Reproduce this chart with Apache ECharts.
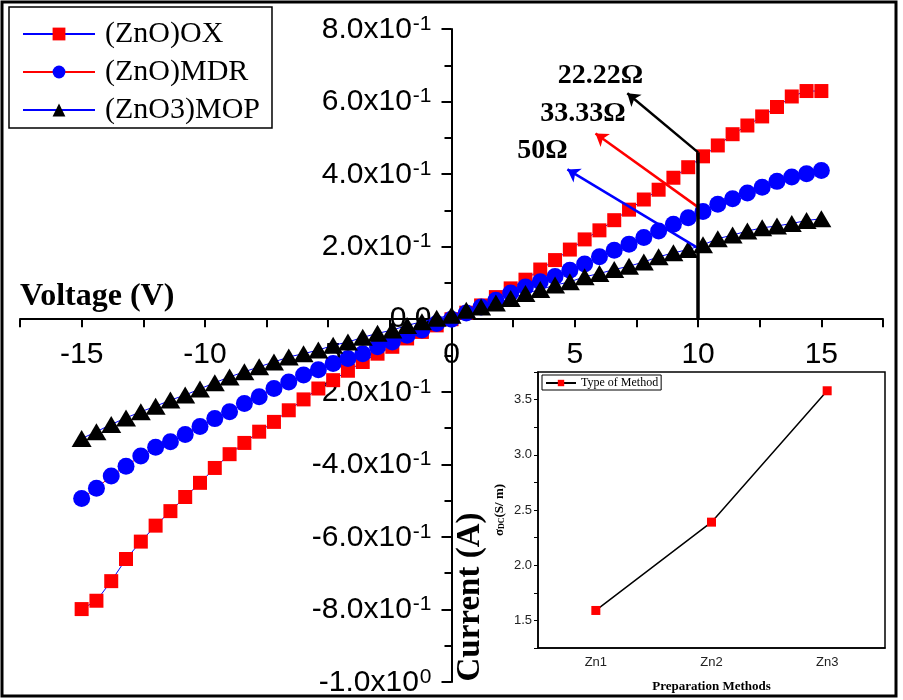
<!DOCTYPE html>
<html><head><meta charset="utf-8">
<script src="https://cdn.jsdelivr.net/npm/echarts@6/dist/echarts.min.js"></script>
<style>html,body{margin:0;padding:0;background:#fff}#c{width:903px;height:700px}</style>
</head><body><div id="c"></div>
<script>
// ---- data ----
const voltage = [-15,-14.4,-13.8,-13.2,-12.6,-12,-11.4,-10.8,-10.2,-9.6,-9,-8.4,-7.8,-7.2,-6.6,-6,-5.4,-4.8,-4.2,-3.6,-3,-2.4,-1.8,-1.2,-0.6,0,0.6,1.2,1.8,2.4,3,3.6,4.2,4.8,5.4,6,6.6,7.2,7.8,8.4,9,9.6,10.2,10.8,11.4,12,12.6,13.2,13.8,14.4,15];
const currentOX = [-0.799,-0.776,-0.722,-0.661,-0.613,-0.569,-0.529,-0.490,-0.451,-0.410,-0.372,-0.341,-0.310,-0.283,-0.251,-0.221,-0.191,-0.168,-0.142,-0.118,-0.095,-0.076,-0.053,-0.035,-0.017,0,0.018,0.038,0.061,0.085,0.109,0.137,0.163,0.192,0.220,0.245,0.273,0.302,0.330,0.357,0.390,0.419,0.449,0.479,0.510,0.534,0.559,0.585,0.614,0.629,0.629];
const currentMDR = [-0.494,-0.466,-0.432,-0.405,-0.377,-0.353,-0.338,-0.318,-0.296,-0.274,-0.255,-0.232,-0.214,-0.191,-0.173,-0.154,-0.139,-0.122,-0.108,-0.095,-0.076,-0.063,-0.044,-0.030,-0.012,0,0.017,0.034,0.052,0.072,0.089,0.103,0.118,0.135,0.152,0.172,0.190,0.207,0.225,0.243,0.262,0.280,0.297,0.317,0.332,0.348,0.364,0.380,0.392,0.401,0.410];
const currentMOP = [-0.329,-0.310,-0.290,-0.272,-0.255,-0.240,-0.223,-0.209,-0.192,-0.175,-0.159,-0.145,-0.131,-0.118,-0.104,-0.095,-0.085,-0.072,-0.063,-0.050,-0.039,-0.030,-0.017,-0.007,0.003,0.011,0.025,0.034,0.045,0.057,0.071,0.082,0.094,0.103,0.117,0.126,0.137,0.146,0.158,0.172,0.183,0.192,0.205,0.222,0.232,0.243,0.252,0.257,0.264,0.272,0.277];
const seriesNames = ['(ZnO)OX','(ZnO)MDR','(ZnO3)MOP'];
const yTickMant = ['-1.0x10','-8.0x10','-6.0x10','-4.0x10','-2.0x10','0.0','2.0x10','4.0x10','6.0x10','8.0x10'];
const yTickExp  = ['0','-1','-1','-1','-1','','-1','-1','-1','-1'];
const xTickLabels = ['-15','-10','-5','0','5','10','15'];
const xTickValues = [-15,-10,-5,0,5,10,15];
// annotations (data coordinates)
const resistLabels = ['22.22Ω','33.33Ω','50Ω'];
const resistLabelPos = [[6.04,0.672],[5.33,0.567],[3.69,0.463]];
const arrowStart = [[10,0.46],[10,0.309],[10,0.196]];
const arrowEnd = [[7.13,0.623],[5.84,0.512],[4.70,0.413]];
const arrowColors = ['#000000','#ff0000','#0000ff'];
const guideLine = [[10,0],[10,0.46]];
// inset
const methods = ['Zn1','Zn2','Zn3'];
const sigmaDC = [1.59,2.39,3.58];
const insetName = 'Type of Method';

const SANS = 'Liberation Sans, Arial, sans-serif';
const SERIF = 'Liberation Serif, Times New Roman, serif';

const chart = echarts.init(document.getElementById('c'), null, {renderer:'canvas'});
const mk = arr => voltage.map((v,i)=>[v, arr[i]]);

const markLineData = arrowStart.map((s,i)=>[
  {coord:s, symbol:'none', lineStyle:{color:arrowColors[i], width:2.5, type:'solid'}},
  {coord:arrowEnd[i], symbol:'arrow'}
]);
markLineData.push([
  {coord:guideLine[0], symbol:'none', lineStyle:{color:'#000', width:3.5, type:'solid'}},
  {coord:guideLine[1], symbol:'none'}
]);

const option = {
  animation:false,
  backgroundColor:'#fff',
  grid:[
    {left:20, right:20, top:29, bottom:18, show:false, containLabel:false, outerBoundsMode:'none'},
    {left:538, top:372, width:347, height:276, show:true, backgroundColor:'#fff', borderColor:'#000', borderWidth:1.5, containLabel:false, outerBoundsMode:'none'}
  ],
  legend:[
    {data:seriesNames, orient:'vertical', left:9, top:7, itemWidth:72, itemHeight:16, itemGap:8,
     padding:[12,12,3,13], borderColor:'#000', borderWidth:1.5, backgroundColor:'#fff',
     selectedMode:false,
     textStyle:{fontSize:30, fontFamily:SERIF, color:'#000', padding:[0,0,0,5]}},
    {data:[insetName], left:542, top:375, itemWidth:30, itemHeight:8, padding:[2,3,1,3],
     borderColor:'#000', borderWidth:1, selectedMode:false,
     textStyle:{fontSize:12, fontFamily:SERIF, color:'#000'}}
  ],
  xAxis:[
    {type:'value', gridIndex:0, min:-17.5, max:17.5, interval:2.5, position:'bottom', offset:0,
     axisLine:{onZero:false, lineStyle:{color:'#000', width:2}},
     axisTick:{show:true, length:8, lineStyle:{color:'#000', width:2}},
     splitLine:{show:false},
     axisLabel:{margin:21, fontSize:30, fontFamily:SANS, color:'#000', showMinLabel:true, showMaxLabel:true,
       formatter:v=>{const i=xTickValues.findIndex(t=>Math.abs(t-v)<1e-6); return i>=0?xTickLabels[i]:'';}}},
    {type:'category', gridIndex:1, data:methods,
     axisLine:{lineStyle:{color:'#000', width:1.5}},
     axisTick:{alignWithLabel:true, length:4, lineStyle:{color:'#000'}},
     axisLabel:{fontSize:13, fontFamily:SANS, color:'#222', margin:8},
     name:'Preparation Methods', nameLocation:'middle', nameGap:32,
     nameTextStyle:{fontFamily:SERIF, fontWeight:'bold', fontSize:13, color:'#000'}}
  ],
  yAxis:[
    {type:'value', gridIndex:0, min:-1.0, max:0.8, interval:0.2, position:'left', offset:0,
     axisLine:{onZero:false, lineStyle:{color:'#000', width:2}},
     axisTick:{show:true, length:10, lineStyle:{color:'#000', width:2}},
     minorTick:{show:true, splitNumber:2, length:7, lineStyle:{color:'#000', width:2}},
     splitLine:{show:false}, minorSplitLine:{show:false},
     axisLabel:{margin:20, color:'#000', showMinLabel:true, showMaxLabel:true,
       formatter:v=>{const i=Math.round((v+1.0)/0.2); const m=yTickMant[i], e=yTickExp[i]; return e?`{m|${m}}{s|${e}}`:`{m|${m}}`;},
       rich:{m:{fontSize:30, fontFamily:SANS, color:'#000', verticalAlign:'bottom'},
             s:{fontSize:21, fontFamily:SANS, color:'#000', verticalAlign:'bottom', padding:[0,0,10,1]}}}},
    {type:'value', gridIndex:1, min:1.25, max:3.75, interval:0.25,
     axisLine:{show:true, lineStyle:{color:'#000', width:1.5}},
     axisTick:{show:true, length:4, lineStyle:{color:'#000'}},
     splitLine:{show:false},
     axisLabel:{fontSize:13, fontFamily:SANS, color:'#222', margin:6,
       formatter:v=>{const k=Math.round(v*4); return k%2===0? (k/4).toFixed(1):'';}},
     name:'{a|σ}{b|DC}{a|(S/ m)}', nameLocation:'middle', nameGap:32, nameRotate:90,
     nameTextStyle:{rich:{a:{fontFamily:SERIF, fontWeight:'bold', fontSize:13, color:'#000'},
                          b:{fontFamily:SERIF, fontWeight:'bold', fontSize:8, color:'#000', verticalAlign:'bottom'}}}}
  ],
  series:[
    {name:seriesNames[0], type:'line', data:mk(currentOX), symbol:'rect', symbolSize:14,
     itemStyle:{color:'#ff0000'}, lineStyle:{color:'#0000ff', width:1}},
    {name:seriesNames[1], type:'line', data:mk(currentMDR), symbol:'circle', symbolSize:17,
     itemStyle:{color:'#0000ff'}, lineStyle:{color:'#ff0000', width:1}},
    {name:seriesNames[2], type:'line', data:mk(currentMOP), symbol:'triangle', symbolSize:[20,17],
     itemStyle:{color:'#000000'}, lineStyle:{color:'#0000ff', width:1}},
    {name:'annot', type:'line', data:[], z:5, silent:true,
     markLine:{silent:true, symbolSize:12, label:{show:false}, data:markLineData},
     markPoint:{silent:true, symbol:'circle', symbolSize:1, itemStyle:{color:'rgba(0,0,0,0)'},
       label:{show:true, position:'inside', formatter:p=>p.name, fontSize:28, fontWeight:'bold', fontFamily:SERIF, color:'#000'},
       data:resistLabels.map((n,i)=>({name:n, coord:resistLabelPos[i]}))}},
    {name:insetName, type:'line', xAxisIndex:1, yAxisIndex:1, data:sigmaDC, symbol:'rect', symbolSize:9,
     itemStyle:{color:'#ff0000'}, lineStyle:{color:'#000', width:1.5}, z:10}
  ],
  graphic:[
    {type:'rect', shape:{x:2, y:2, width:894, height:694}, style:{fill:'none', stroke:'#000', lineWidth:3}, z:100, silent:true},
    {type:'text', x:20, y:297, style:{text:'Voltage (V)', font:'bold 32px '+SERIF, fill:'#000', textAlign:'left', textVerticalAlign:'middle'}, z:100},
    {type:'text', x:470, y:597, rotation:Math.PI/2, style:{text:'Current (A)', font:'bold 33px '+SERIF, fill:'#000', textAlign:'center', textVerticalAlign:'middle'}, z:100}
  ]
};
chart.setOption(option);
// move the main axes so they cross at the origin, using the chart's own scales
const origin = chart.convertToPixel({gridIndex:0}, [0, 0]);
const bottomLeft = chart.convertToPixel({gridIndex:0}, [-17.5, -1.0]);
chart.setOption({
  xAxis:[{offset: origin[1] - bottomLeft[1]}, {}],
  yAxis:[{offset: bottomLeft[0] - origin[0]}, {}]
});
</script></body></html>
